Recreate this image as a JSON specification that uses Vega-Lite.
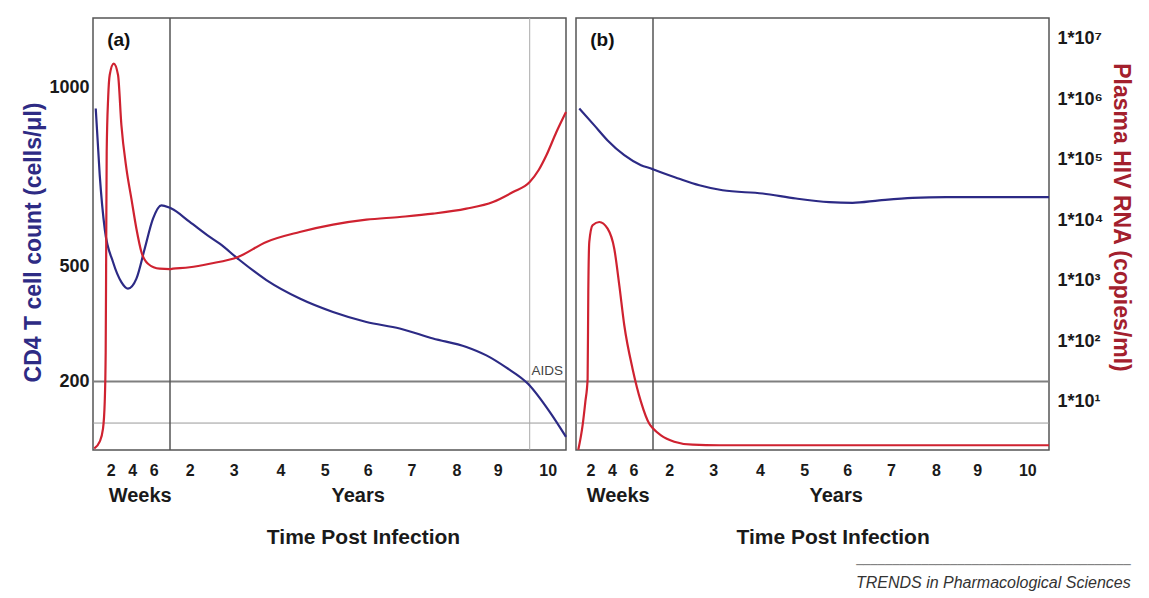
{
  "$schema": "https://vega.github.io/schema/vega-lite/v6.json",
  "padding": {"left": 22, "top": 16, "right": 5, "bottom": 2},
  "background": "white",
  "datasets": {
    "cd4a": [
      {"t": 0.0115, "cd4": 940}, {"t": 0.0186, "cd4": 755}, {"t": 0.0276, "cd4": 604},
      {"t": 0.0424, "cd4": 512}, {"t": 0.0574, "cd4": 459}, {"t": 0.0692, "cd4": 442},
      {"t": 0.0843, "cd4": 468}, {"t": 0.0991, "cd4": 549}, {"t": 0.114, "cd4": 633},
      {"t": 0.129, "cd4": 670}, {"t": 0.1439, "cd4": 663}, {"t": 1.584, "cd4": 661},
      {"t": 2.0, "cd4": 624}, {"t": 2.455, "cd4": 582}, {"t": 2.682, "cd4": 563},
      {"t": 3.092, "cd4": 521}, {"t": 3.7, "cd4": 464}, {"t": 4.436, "cd4": 416},
      {"t": 5.193, "cd4": 381}, {"t": 5.97, "cd4": 355}, {"t": 6.732, "cd4": 338},
      {"t": 7.48, "cd4": 312}, {"t": 8.242, "cd4": 290}, {"t": 8.726, "cd4": 268},
      {"t": 9.174, "cd4": 236}, {"t": 9.606, "cd4": 194}, {"t": 10.046, "cd4": 121},
      {"t": 10.42, "cd4": 56}
    ],
    "rnaa": [
      {"t": 0.0088, "rna": 1.7}, {"t": 0.0186, "rna": 2.2}, {"t": 0.0245, "rna": 3.6},
      {"t": 0.0276, "rna": 10}, {"t": 0.0293, "rna": 66}, {"t": 0.0302, "rna": 3000},
      {"t": 0.0311, "rna": 134000}, {"t": 0.0338, "rna": 1080000}, {"t": 0.0365, "rna": 2500000},
      {"t": 0.0437, "rna": 3850000}, {"t": 0.0514, "rna": 2500000}, {"t": 0.0574, "rna": 373000},
      {"t": 0.0664, "rna": 71000}, {"t": 0.0753, "rna": 22700}, {"t": 0.0843, "rna": 7240},
      {"t": 0.0932, "rna": 2990}, {"t": 0.105, "rna": 1910}, {"t": 0.1259, "rna": 1580},
      {"t": 0.1439, "rna": 1560}, {"t": 1.621, "rna": 1580}, {"t": 2.0, "rna": 1670},
      {"t": 2.455, "rna": 1910}, {"t": 3.092, "rna": 2470}, {"t": 3.7, "rna": 4370},
      {"t": 4.436, "rna": 6380}, {"t": 5.193, "rna": 8440}, {"t": 5.97, "rna": 10200},
      {"t": 6.732, "rna": 11300}, {"t": 7.48, "rna": 12800}, {"t": 8.242, "rna": 15500},
      {"t": 8.886, "rna": 20000}, {"t": 9.306, "rna": 29200}, {"t": 9.64, "rna": 42800},
      {"t": 9.82, "rna": 67400}, {"t": 9.974, "rna": 118000}, {"t": 10.2, "rna": 286000},
      {"t": 10.42, "rna": 612000}
    ],
    "cd4b": [
      {"t": 0.0125, "cd4": 940}, {"t": 0.0394, "cd4": 893}, {"t": 0.0632, "cd4": 851},
      {"t": 0.093, "cd4": 810}, {"t": 0.1229, "cd4": 782}, {"t": 0.1437, "cd4": 771},
      {"t": 1.582, "cd4": 769}, {"t": 2.15, "cd4": 744}, {"t": 2.605, "cd4": 726},
      {"t": 3.126, "cd4": 712}, {"t": 3.983, "cd4": 703}, {"t": 4.736, "cd4": 689},
      {"t": 5.502, "cd4": 679}, {"t": 6.043, "cd4": 677}, {"t": 6.654, "cd4": 684},
      {"t": 7.404, "cd4": 691}, {"t": 8.16, "cd4": 693}, {"t": 9.632, "cd4": 693},
      {"t": 10.42, "cd4": 693}
    ],
    "rnab": [
      {"t": 0.0107, "rna": 1.62}, {"t": 0.0184, "rna": 4.1}, {"t": 0.0233, "rna": 10},
      {"t": 0.0274, "rna": 24}, {"t": 0.0286, "rna": 650}, {"t": 0.0304, "rna": 4370},
      {"t": 0.0363, "rna": 8240}, {"t": 0.0483, "rna": 9340}, {"t": 0.0632, "rna": 7240},
      {"t": 0.0751, "rna": 3380}, {"t": 0.0841, "rna": 840}, {"t": 0.093, "rna": 184},
      {"t": 0.1079, "rna": 35}, {"t": 0.1229, "rna": 10}, {"t": 0.1378, "rna": 4.35},
      {"t": 0.1437, "rna": 3.7}, {"t": 1.734, "rna": 2.8}, {"t": 2.036, "rna": 2.2},
      {"t": 2.452, "rna": 1.96}, {"t": 3.056, "rna": 1.92}, {"t": 10.42, "rna": 1.92}
    ]
  },
  "title": {
    "text": "──────────────────────────────────────",
    "subtitle": "TRENDS in Pharmacological Sciences",
    "orient": "bottom", "anchor": "end", "frame": "bounds",
    "font": "DejaVu Sans", "fontSize": 12, "fontWeight": "normal", "color": "#777777",
    "subtitleFont": "Liberation Sans", "subtitleFontSize": 16, "subtitleFontStyle": "italic",
    "subtitleColor": "#333333", "subtitlePadding": 3, "offset": 12, "dx": -2
  },
  "spacing": 10,
  "bounds": "flush",
  "hconcat": [
    {
      "width": 473, "height": 432,
      "layer": [
        {
          "layer": [
            {"data": {"values": [{"cd4": 200}]}, "mark": {"type": "rule", "color": "#7f7f7f", "strokeWidth": 2},
             "encoding": {"y": {"field": "cd4", "type": "quantitative",
               "scale": {"domain": [22, 200, 500, 1000, 1192], "range": [432, 363.5, 248.3, 69, 0], "nice": false, "zero": false},
               "axis": {"orient": "left", "values": [200, 500, 1000], "format": "d", "title": "CD4 T cell count (cells/μl)", "titleColor": "#2e2b84", "titleFontSize": 23, "titleFontWeight": "bold", "titlePadding": 3, "titleY": 224, "labelFontSize": 18, "labelFontWeight": "bold", "labelColor": "#1a1a1a", "labelPadding": 4, "ticks": false, "domain": false, "grid": false, "labelOverlap": false}}}},
            {"data": {"values": [{"cd4": 92}]}, "mark": {"type": "rule", "color": "#9a9a9a", "strokeWidth": 1},
             "encoding": {"y": {"field": "cd4", "type": "quantitative",
               "scale": {"domain": [22, 200, 500, 1000, 1192], "range": [432, 363.5, 248.3, 69, 0], "nice": false, "zero": false},
               "axis": {"orient": "left", "values": [200, 500, 1000], "format": "d", "title": "CD4 T cell count (cells/μl)", "titleColor": "#2e2b84", "titleFontSize": 23, "titleFontWeight": "bold", "titlePadding": 3, "titleY": 224, "labelFontSize": 18, "labelFontWeight": "bold", "labelColor": "#1a1a1a", "labelPadding": 4, "ticks": false, "domain": false, "grid": false, "labelOverlap": false}}}},
            {"data": {"values": [{"t": 0.1444}]}, "mark": {"type": "rule", "color": "#555555", "strokeWidth": 1.5},
             "encoding": {"x": {"field": "t", "type": "quantitative",
               "scale": {"domain": [0.0066, 0.1444, 1.564, 2, 3, 4, 5, 6, 7, 8, 9, 10, 10.42], "range": [0, 77, 77.5, 96.7, 140.7, 187.4, 231.7, 274.7, 318.4, 363.4, 404.7, 454.7, 473], "nice": false, "zero": false},
               "axis": {"orient": "bottom", "values": [0.03846, 0.07692, 0.11538, 2, 3, 4, 5, 6, 7, 8, 9, 10], "labelExpr": "datum.value < 1 ? format(datum.value*52, '.0f') : format(datum.value, '.0f')", "labelFontSize": 16, "labelFontWeight": "bold", "labelColor": "#1a1a1a", "labelPadding": 12, "ticks": false, "domain": false, "grid": false, "title": null, "labelFlush": false, "labelOverlap": false, "labelBound": false}}}},
            {"data": {"values": [{"t": 9.64}]}, "mark": {"type": "rule", "color": "#aaaaaa", "strokeWidth": 1},
             "encoding": {"x": {"field": "t", "type": "quantitative",
               "scale": {"domain": [0.0066, 0.1444, 1.564, 2, 3, 4, 5, 6, 7, 8, 9, 10, 10.42], "range": [0, 77, 77.5, 96.7, 140.7, 187.4, 231.7, 274.7, 318.4, 363.4, 404.7, 454.7, 473], "nice": false, "zero": false},
               "axis": {"orient": "bottom", "values": [0.03846, 0.07692, 0.11538, 2, 3, 4, 5, 6, 7, 8, 9, 10], "labelExpr": "datum.value < 1 ? format(datum.value*52, '.0f') : format(datum.value, '.0f')", "labelFontSize": 16, "labelFontWeight": "bold", "labelColor": "#1a1a1a", "labelPadding": 12, "ticks": false, "domain": false, "grid": false, "title": null, "labelFlush": false, "labelOverlap": false, "labelBound": false}}}},
            {"data": {"name": "cd4a"}, "mark": {"type": "line", "color": "#2c2a85", "strokeWidth": 2.2, "interpolate": "monotone"},
             "encoding": {
               "x": {"field": "t", "type": "quantitative",
                 "scale": {"domain": [0.0066, 0.1444, 1.564, 2, 3, 4, 5, 6, 7, 8, 9, 10, 10.42], "range": [0, 77, 77.5, 96.7, 140.7, 187.4, 231.7, 274.7, 318.4, 363.4, 404.7, 454.7, 473], "nice": false, "zero": false},
                 "axis": {"orient": "bottom", "values": [0.03846, 0.07692, 0.11538, 2, 3, 4, 5, 6, 7, 8, 9, 10], "labelExpr": "datum.value < 1 ? format(datum.value*52, '.0f') : format(datum.value, '.0f')", "labelFontSize": 16, "labelFontWeight": "bold", "labelColor": "#1a1a1a", "labelPadding": 12, "ticks": false, "domain": false, "grid": false, "title": null, "labelFlush": false, "labelOverlap": false, "labelBound": false}},
               "y": {"field": "cd4", "type": "quantitative",
                 "scale": {"domain": [22, 200, 500, 1000, 1192], "range": [432, 363.5, 248.3, 69, 0], "nice": false, "zero": false},
                 "axis": {"orient": "left", "values": [200, 500, 1000], "format": "d", "title": "CD4 T cell count (cells/μl)", "titleColor": "#2e2b84", "titleFontSize": 23, "titleFontWeight": "bold", "titlePadding": 3, "titleY": 224, "labelFontSize": 18, "labelFontWeight": "bold", "labelColor": "#1a1a1a", "labelPadding": 4, "ticks": false, "domain": false, "grid": false, "labelOverlap": false}}}},
            {"data": {"values": [{"t": 0.032, "cd4": 1131, "label": "(a)"}]},
             "mark": {"type": "text", "align": "left", "baseline": "middle", "fontSize": 19, "fontWeight": "bold", "color": "#111111", "font": "Liberation Sans"},
             "encoding": {
               "x": {"field": "t", "type": "quantitative",
                 "scale": {"domain": [0.0066, 0.1444, 1.564, 2, 3, 4, 5, 6, 7, 8, 9, 10, 10.42], "range": [0, 77, 77.5, 96.7, 140.7, 187.4, 231.7, 274.7, 318.4, 363.4, 404.7, 454.7, 473], "nice": false, "zero": false},
                 "axis": {"orient": "bottom", "values": [0.03846, 0.07692, 0.11538, 2, 3, 4, 5, 6, 7, 8, 9, 10], "labelExpr": "datum.value < 1 ? format(datum.value*52, '.0f') : format(datum.value, '.0f')", "labelFontSize": 16, "labelFontWeight": "bold", "labelColor": "#1a1a1a", "labelPadding": 12, "ticks": false, "domain": false, "grid": false, "title": null, "labelFlush": false, "labelOverlap": false, "labelBound": false}},
               "y": {"field": "cd4", "type": "quantitative",
                 "scale": {"domain": [22, 200, 500, 1000, 1192], "range": [432, 363.5, 248.3, 69, 0], "nice": false, "zero": false},
                 "axis": {"orient": "left", "values": [200, 500, 1000], "format": "d", "title": "CD4 T cell count (cells/μl)", "titleColor": "#2e2b84", "titleFontSize": 23, "titleFontWeight": "bold", "titlePadding": 3, "titleY": 224, "labelFontSize": 18, "labelFontWeight": "bold", "labelColor": "#1a1a1a", "labelPadding": 4, "ticks": false, "domain": false, "grid": false, "labelOverlap": false}},
               "text": {"field": "label"}}},
            {"data": {"values": [{"t": 9.674, "cd4": 216, "label": "AIDS"}]},
             "mark": {"type": "text", "align": "left", "baseline": "alphabetic", "fontSize": 13.5, "color": "#444444", "font": "Liberation Sans"},
             "encoding": {
               "x": {"field": "t", "type": "quantitative",
                 "scale": {"domain": [0.0066, 0.1444, 1.564, 2, 3, 4, 5, 6, 7, 8, 9, 10, 10.42], "range": [0, 77, 77.5, 96.7, 140.7, 187.4, 231.7, 274.7, 318.4, 363.4, 404.7, 454.7, 473], "nice": false, "zero": false},
                 "axis": {"orient": "bottom", "values": [0.03846, 0.07692, 0.11538, 2, 3, 4, 5, 6, 7, 8, 9, 10], "labelExpr": "datum.value < 1 ? format(datum.value*52, '.0f') : format(datum.value, '.0f')", "labelFontSize": 16, "labelFontWeight": "bold", "labelColor": "#1a1a1a", "labelPadding": 12, "ticks": false, "domain": false, "grid": false, "title": null, "labelFlush": false, "labelOverlap": false, "labelBound": false}},
               "y": {"field": "cd4", "type": "quantitative",
                 "scale": {"domain": [22, 200, 500, 1000, 1192], "range": [432, 363.5, 248.3, 69, 0], "nice": false, "zero": false},
                 "axis": {"orient": "left", "values": [200, 500, 1000], "format": "d", "title": "CD4 T cell count (cells/μl)", "titleColor": "#2e2b84", "titleFontSize": 23, "titleFontWeight": "bold", "titlePadding": 3, "titleY": 224, "labelFontSize": 18, "labelFontWeight": "bold", "labelColor": "#1a1a1a", "labelPadding": 4, "ticks": false, "domain": false, "grid": false, "labelOverlap": false}},
               "text": {"field": "label"}}}
          ]
        },
        {
          "data": {"name": "rnaa"},
          "mark": {"type": "line", "color": "#cf2230", "strokeWidth": 2.2, "interpolate": "monotone"},
          "encoding": {
            "x": {"field": "t", "type": "quantitative",
              "scale": {"domain": [0.0066, 0.1444, 1.564, 2, 3, 4, 5, 6, 7, 8, 9, 10, 10.42], "range": [0, 77, 77.5, 96.7, 140.7, 187.4, 231.7, 274.7, 318.4, 363.4, 404.7, 454.7, 473], "nice": false, "zero": false},
              "axis": {"orient": "bottom", "values": [0.0902, 5.767], "labelExpr": "datum.value < 1 ? 'Weeks' : 'Years'", "labelFontSize": 20, "labelFontWeight": "bold", "labelColor": "#1a1a1a", "labelPadding": 35, "ticks": false, "domain": false, "grid": false, "labelFlush": false, "labelOverlap": false, "labelBound": false, "title": "Time Post Infection", "titleFontSize": 21, "titleFontWeight": "bold", "titleColor": "#1a1a1a", "titleX": 270, "titleY": 76.5}},
            "y": {"field": "rna", "type": "quantitative",
              "scale": {"type": "log", "domain": [1.603, 21830000], "nice": false},
              "axis": null}
          }
        }
      ],
      "resolve": {"scale": {"x": "independent", "y": "independent"}, "axis": {"x": "independent", "y": "independent"}}
    },
    {
      "width": 473, "height": 432,
      "layer": [
        {
          "layer": [
            {"data": {"values": [{"cd4": 200}]}, "mark": {"type": "rule", "color": "#7f7f7f", "strokeWidth": 2},
             "encoding": {"y": {"field": "cd4", "type": "quantitative",
               "scale": {"domain": [22, 200, 500, 1000, 1192], "range": [432, 363.5, 248.3, 69, 0], "nice": false, "zero": false},
               "axis": null}}},
            {"data": {"values": [{"cd4": 92}]}, "mark": {"type": "rule", "color": "#9a9a9a", "strokeWidth": 1},
             "encoding": {"y": {"field": "cd4", "type": "quantitative",
               "scale": {"domain": [22, 200, 500, 1000, 1192], "range": [432, 363.5, 248.3, 69, 0], "nice": false, "zero": false},
               "axis": null}}},
            {"data": {"values": [{"t": 0.1444}]}, "mark": {"type": "rule", "color": "#555555", "strokeWidth": 1.5},
             "encoding": {"x": {"field": "t", "type": "quantitative",
               "scale": {"domain": [0.0066, 0.1444, 1.564, 2, 3, 4, 5, 6, 7, 8, 9, 10, 10.42], "range": [0, 77, 77.5, 96.7, 140.7, 187.4, 231.7, 274.7, 318.4, 363.4, 404.7, 454.7, 473], "nice": false, "zero": false},
               "axis": {"orient": "bottom", "values": [0.03846, 0.07692, 0.11538, 2, 3, 4, 5, 6, 7, 8, 9, 10], "labelExpr": "datum.value < 1 ? format(datum.value*52, '.0f') : format(datum.value, '.0f')", "labelFontSize": 16, "labelFontWeight": "bold", "labelColor": "#1a1a1a", "labelPadding": 12, "labelOffset": -3.4, "ticks": false, "domain": false, "grid": false, "title": null, "labelFlush": false, "labelOverlap": false, "labelBound": false}}}},
            {"data": {"name": "cd4b"}, "mark": {"type": "line", "color": "#2c2a85", "strokeWidth": 2.2, "interpolate": "monotone"},
             "encoding": {
               "x": {"field": "t", "type": "quantitative",
                 "scale": {"domain": [0.0066, 0.1444, 1.564, 2, 3, 4, 5, 6, 7, 8, 9, 10, 10.42], "range": [0, 77, 77.5, 96.7, 140.7, 187.4, 231.7, 274.7, 318.4, 363.4, 404.7, 454.7, 473], "nice": false, "zero": false},
                 "axis": {"orient": "bottom", "values": [0.03846, 0.07692, 0.11538, 2, 3, 4, 5, 6, 7, 8, 9, 10], "labelExpr": "datum.value < 1 ? format(datum.value*52, '.0f') : format(datum.value, '.0f')", "labelFontSize": 16, "labelFontWeight": "bold", "labelColor": "#1a1a1a", "labelPadding": 12, "labelOffset": -3.4, "ticks": false, "domain": false, "grid": false, "title": null, "labelFlush": false, "labelOverlap": false, "labelBound": false}},
               "y": {"field": "cd4", "type": "quantitative",
                 "scale": {"domain": [22, 200, 500, 1000, 1192], "range": [432, 363.5, 248.3, 69, 0], "nice": false, "zero": false},
                 "axis": null}}},
            {"data": {"values": [{"t": 0.032, "cd4": 1131, "label": "(b)"}]},
             "mark": {"type": "text", "align": "left", "baseline": "middle", "fontSize": 19, "fontWeight": "bold", "color": "#111111", "font": "Liberation Sans"},
             "encoding": {
               "x": {"field": "t", "type": "quantitative",
                 "scale": {"domain": [0.0066, 0.1444, 1.564, 2, 3, 4, 5, 6, 7, 8, 9, 10, 10.42], "range": [0, 77, 77.5, 96.7, 140.7, 187.4, 231.7, 274.7, 318.4, 363.4, 404.7, 454.7, 473], "nice": false, "zero": false},
                 "axis": {"orient": "bottom", "values": [0.03846, 0.07692, 0.11538, 2, 3, 4, 5, 6, 7, 8, 9, 10], "labelExpr": "datum.value < 1 ? format(datum.value*52, '.0f') : format(datum.value, '.0f')", "labelFontSize": 16, "labelFontWeight": "bold", "labelColor": "#1a1a1a", "labelPadding": 12, "labelOffset": -3.4, "ticks": false, "domain": false, "grid": false, "title": null, "labelFlush": false, "labelOverlap": false, "labelBound": false}},
               "y": {"field": "cd4", "type": "quantitative",
                 "scale": {"domain": [22, 200, 500, 1000, 1192], "range": [432, 363.5, 248.3, 69, 0], "nice": false, "zero": false},
                 "axis": null},
               "text": {"field": "label"}}}
          ]
        },
        {
          "data": {"name": "rnab"},
          "mark": {"type": "line", "color": "#cf2230", "strokeWidth": 2.2, "interpolate": "monotone"},
          "encoding": {
            "x": {"field": "t", "type": "quantitative",
              "scale": {"domain": [0.0066, 0.1444, 1.564, 2, 3, 4, 5, 6, 7, 8, 9, 10, 10.42], "range": [0, 77, 77.5, 96.7, 140.7, 187.4, 231.7, 274.7, 318.4, 363.4, 404.7, 454.7, 473], "nice": false, "zero": false},
              "axis": {"orient": "bottom", "values": [0.0902, 5.767], "labelExpr": "datum.value < 1 ? 'Weeks' : 'Years'", "labelFontSize": 20, "labelFontWeight": "bold", "labelColor": "#1a1a1a", "labelPadding": 35, "labelOffset": -5, "ticks": false, "domain": false, "grid": false, "labelFlush": false, "labelOverlap": false, "labelBound": false, "title": "Time Post Infection", "titleFontSize": 21, "titleFontWeight": "bold", "titleColor": "#1a1a1a", "titleX": 256.6, "titleY": 76.5}},
            "y": {"field": "rna", "type": "quantitative",
              "scale": {"type": "log", "domain": [1.603, 21830000], "nice": false},
              "axis": {"orient": "right", "values": [10, 100, 1000, 10000, 100000, 1000000, 10000000], "labelExpr": "'1*10' + ['⁰','¹','²','³','⁴','⁵','⁶','⁷'][round(log(datum.value)/LN10)]", "labelFontSize": 18, "labelFontWeight": "bold", "labelColor": "#1a1a1a", "labelPadding": 8, "ticks": false, "domain": false, "grid": false, "labelOverlap": false, "title": "Plasma HIV RNA (copies/ml)", "titleColor": "#a3202d", "titleFontSize": 23, "titleFontWeight": "bold", "titlePadding": 6, "titleY": 199}}
          }
        }
      ],
      "resolve": {"scale": {"x": "independent", "y": "independent"}, "axis": {"x": "independent", "y": "independent"}}
    }
  ],
  "config": {
    "font": "Liberation Sans",
    "view": {"stroke": "#555555", "strokeWidth": 1.5},
    "axis": {"labelFont": "Liberation Sans", "titleFont": "Liberation Sans"}
  }
}
